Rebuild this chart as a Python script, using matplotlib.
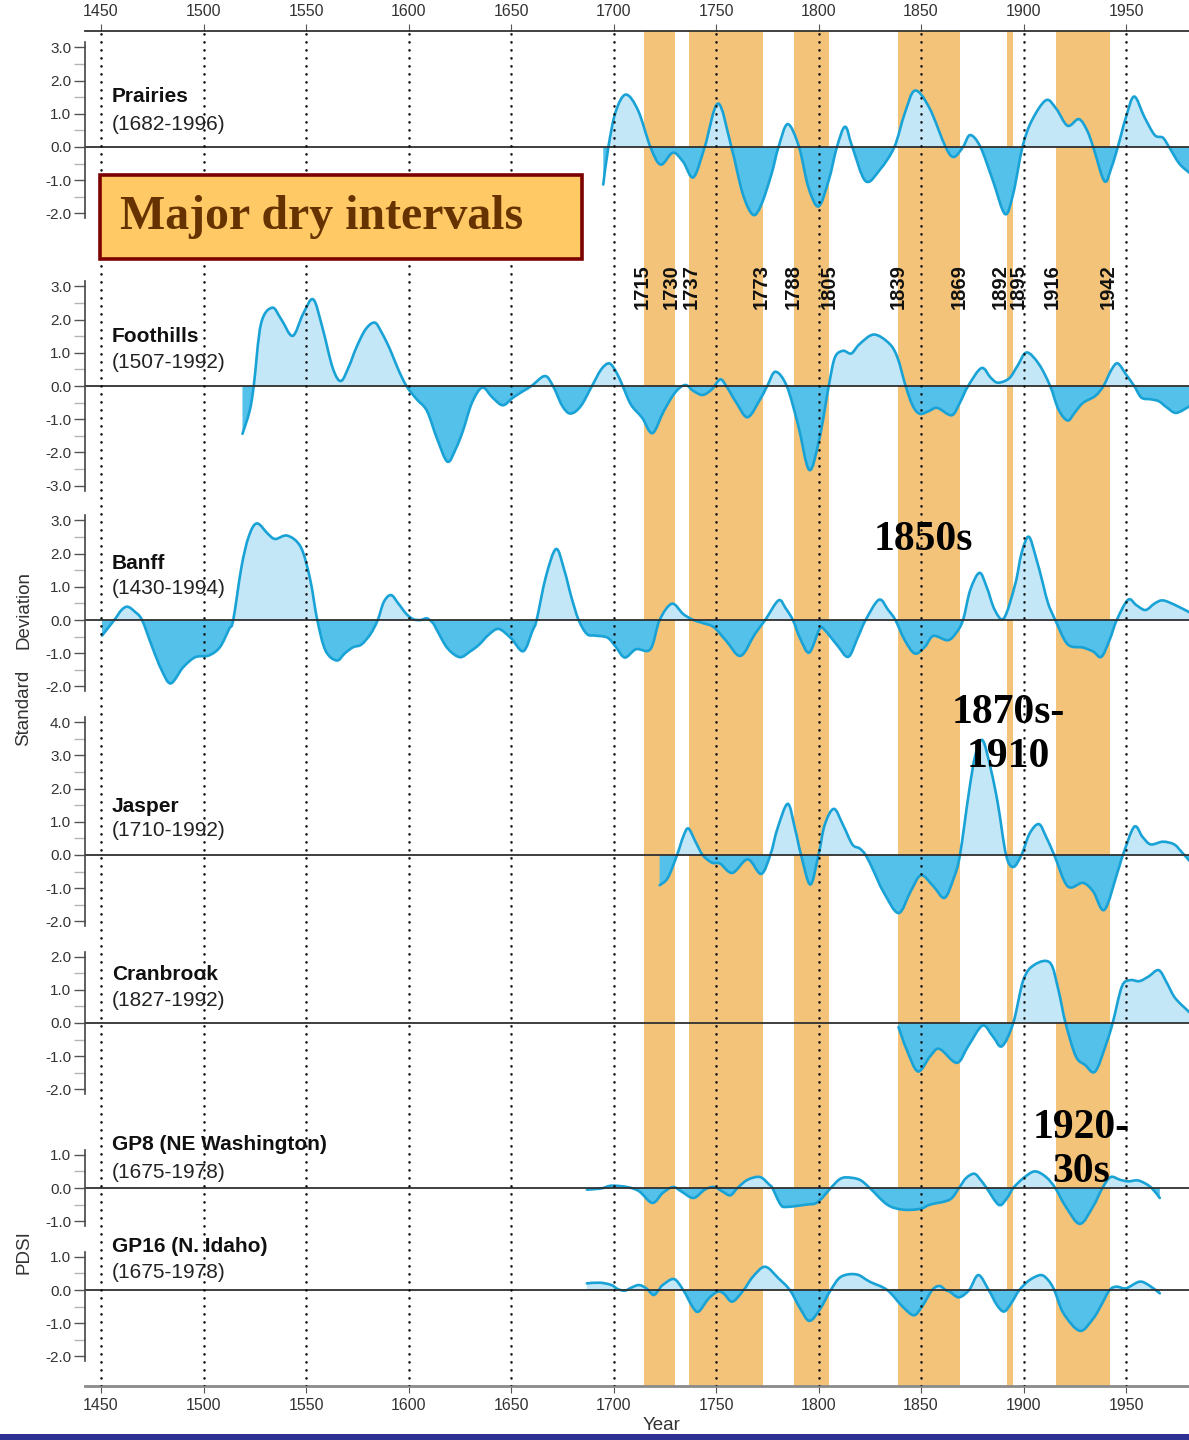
import matplotlib
matplotlib.use("Agg")
import matplotlib.pyplot as plt
import numpy as np
from matplotlib.patches import PathPatch, Rectangle
from matplotlib.path import Path
from matplotlib.ticker import FormatStrFormatter, MultipleLocator

W, H = 1189, 1440
SANS = ["Liberation Sans", "DejaVu Sans"]
SERIF = ["Liberation Serif", "DejaVu Serif"]
plt.rcParams["font.family"] = SANS

LINE = "#19a2d6"
POS = "#c4e7f7"
NEG = "#53c1ea"
ORANGE = "#f3c37a"

# dry intervals
DRY_START = [1715, 1737, 1788, 1839, 1892, 1916]
DRY_END = [1730, 1773, 1805, 1869, 1895, 1942]
EDGE_YEARS = [1715, 1730, 1737, 1773, 1788, 1805, 1839, 1869, 1892, 1895, 1916, 1942]
EDGE_NUDGE = {1715: -0.8, 1730: -1.8, 1737: 0.8, 1773: -1.1, 1788: -0.4,
              1869: -0.5, 1892: -3.2, 1895: 2.5, 1916: -2.1, 1942: -0.6}
GRID_YEARS = list(range(1450, 1951, 50))

prairies_yr = [1695, 1697.5, 1701, 1706, 1712, 1718, 1723, 1729, 1734, 1739, 1744.5,
               1751, 1757.5, 1763, 1768, 1772, 1777, 1780.5, 1785, 1790.5, 1795, 1800,
               1805, 1809, 1813, 1816.5, 1823, 1830, 1837, 1842, 1847, 1854, 1862, 1866,
               1870.5, 1874, 1879, 1885, 1891, 1895, 1899.5, 1904, 1911, 1916, 1921.5,
               1927, 1931, 1934, 1939.5, 1943, 1946, 1950, 1954, 1959, 1964, 1968, 1971,
               1976, 1981]
prairies_val = [-1.13, 0, 1.05, 1.58, 1.10, 0, -0.53, -0.17, -0.45, -0.91, 0,
                1.31, 0, -1.4, -2.04, -1.75, -0.83, 0, 0.69, 0, -1.2, -1.79,
                -1.0, 0, 0.61, 0, -1.03, -0.68, 0, 1.0, 1.70, 1.19, 0, -0.30,
                0, 0.36, 0, -1.0, -2.02, -1.4, 0, 0.79, 1.41, 1.15, 0.64,
                0.84, 0.5, 0, -1.03, -0.6, 0, 0.9, 1.52, 0.9, 0.36, 0.28, 0,
                -0.5, -0.78]

foothills_yr = [1519, 1522.5, 1524.5, 1528, 1533.5, 1538, 1543.5, 1548.5, 1553.5, 1558,
                1563, 1567, 1571, 1574.5, 1579, 1583.5, 1587, 1591, 1595, 1599, 1604,
                1609, 1614, 1619, 1623, 1626.5, 1631, 1636, 1641, 1646, 1651, 1656,
                1660, 1666.5, 1670.5, 1675, 1679, 1684, 1689.5, 1694, 1698, 1701.5,
                1704.5, 1708.5, 1714, 1719, 1724.5, 1730, 1735, 1739, 1743.5, 1748,
                1752, 1755, 1760, 1765.5, 1772, 1775, 1779, 1784.5, 1790, 1795.5,
                1800.5, 1805, 1808, 1812, 1816, 1820, 1827, 1834.5, 1838.5, 1842.5,
                1846, 1849.5, 1854, 1858, 1865, 1869, 1873, 1879.5, 1884, 1887.5,
                1893, 1897, 1901.5, 1907.5, 1913, 1917, 1921.5, 1925, 1929, 1935,
                1939, 1943, 1946, 1950, 1954, 1957.5, 1962, 1966, 1970, 1974.5, 1981]
foothills_val = [-1.44, -0.75, 0, 1.86, 2.36, 2.0, 1.51, 2.16, 2.61, 1.76,
                 0.55, 0.15, 0.6, 1.15, 1.7, 1.91, 1.6, 1.10, 0.5, 0, -0.4,
                 -0.75, -1.6, -2.28, -1.9, -1.36, -0.5, -0.05, -0.35, -0.58, -0.35, -0.15,
                 0, 0.30, 0, -0.6, -0.83, -0.61, 0, 0.5, 0.68, 0.4,
                 0, -0.56, -0.96, -1.42, -0.76, -0.20, 0.03, -0.15, -0.27, -0.1,
                 0.20, 0, -0.51, -0.94, -0.35, 0, 0.43, 0, -1.16, -2.53,
                 -1.57, 0, 0.86, 1.06, 0.98, 1.26, 1.55, 1.28, 0.86, 0,
                 -0.6, -0.84, -0.75, -0.66, -0.88, -0.5, 0, 0.54, 0.25, 0.10,
                 0.23, 0.6, 1.01, 0.66, 0, -0.7, -1.04, -0.8, -0.51, -0.30,
                 0, 0.5, 0.68, 0.35, 0, -0.35, -0.4, -0.46, -0.65, -0.81, -0.61]

banff_yr = [1450.5, 1456.5, 1460, 1463, 1466.5, 1470, 1475, 1479.5, 1484, 1490, 1496,
            1502.5, 1508, 1512.5, 1514.5, 1518.5, 1522, 1526, 1531.5, 1535, 1541,
            1547.5, 1552, 1555.5, 1559.5, 1565, 1569, 1573, 1577, 1581.5, 1585, 1588,
            1591.5, 1595, 1599, 1602.5, 1606, 1609, 1612, 1614, 1619, 1625, 1630,
            1634.5, 1639, 1644, 1650, 1656, 1660.5, 1662.5, 1667, 1672, 1676, 1679.5,
            1683, 1687, 1691, 1697, 1701, 1705.5, 1711, 1718, 1722.5, 1728.5, 1734,
            1739, 1744, 1749, 1755, 1762, 1769, 1774, 1780.5, 1784, 1787.5, 1791,
            1795.5, 1800.5, 1803, 1809, 1814.5, 1819, 1823, 1829.5, 1834, 1837.5,
            1842, 1847, 1852, 1856, 1863, 1867, 1870.5, 1874, 1878.5, 1882, 1886,
            1890.5, 1896, 1899, 1902.5, 1906, 1909.5, 1912, 1915.5, 1921.5, 1929,
            1934, 1938, 1942, 1945.5, 1951, 1955, 1959.5, 1964, 1968, 1974, 1981]
banff_val = [-0.47, 0, 0.3, 0.40, 0.25, 0, -0.82, -1.5, -1.91, -1.43, -1.12,
             -1.07, -0.82, -0.27, 0, 1.59, 2.5, 2.91, 2.59, 2.44, 2.54,
             2.19, 1.23, 0, -0.92, -1.22, -1.0, -0.82, -0.74, -0.42, 0, 0.55,
             0.75, 0.5, 0.18, 0.02, 0.0, 0.05, -0.1, -0.32, -0.85, -1.12, -0.95,
             -0.74, -0.45, -0.27, -0.55, -0.94, -0.32, 0, 1.3, 2.14, 1.5, 0.68,
             0, -0.42, -0.47, -0.53, -0.8, -1.13, -0.88, -0.88, 0, 0.49, 0.18,
             0, -0.1, -0.22, -0.63, -1.08, -0.42, 0, 0.59, 0.35, 0, -0.55,
             -0.98, -0.27, -0.30, -0.75, -1.11, -0.55, 0, 0.61, 0.3, 0,
             -0.6, -1.01, -0.8, -0.48, -0.61, -0.40, 0, 0.9, 1.42, 1.0, 0.3,
             0.06, 1.09, 2.0, 2.51, 1.9, 1.09, 0.5, 0, -0.73, -0.83,
             -0.95, -1.11, -0.6, 0, 0.61, 0.45, 0.30, 0.5, 0.59, 0.45, 0.23]

jasper_yr = [1722.5, 1726.5, 1731, 1734, 1736.5, 1740, 1743.5, 1748, 1752, 1758, 1765.5,
             1772, 1776.5, 1780, 1785, 1788.5, 1791.5, 1796, 1800, 1803, 1807.5, 1812,
             1816.5, 1820, 1823, 1827, 1831.5, 1839, 1845, 1850, 1856, 1861.5, 1866,
             1869, 1873.5, 1876.5, 1880, 1884, 1887.5, 1891.5, 1895, 1899, 1903,
             1907.5, 1911, 1915, 1921.5, 1929, 1934, 1939.5, 1946, 1948.5, 1954, 1958,
             1962, 1968, 1973.5, 1977, 1981]
jasper_val = [-0.91, -0.69, 0, 0.55, 0.80, 0.4, 0, -0.23, -0.26, -0.54, -0.13,
              -0.57, 0, 0.8, 1.54, 0.8, 0, -0.89, 0, 0.9, 1.39, 0.9,
              0.32, 0.20, 0, -0.5, -1.09, -1.75, -1.09, -0.61, -0.94, -1.29, -0.69,
              0, 1.94, 3.0, 3.46, 2.6, 1.54, 0, -0.36, 0, 0.65,
              0.93, 0.55, 0, -0.94, -0.84, -1.1, -1.65, -0.49, 0, 0.85, 0.55,
              0.32, 0.40, 0.32, 0.1, -0.18]

cranbrook_yr = [1839, 1843, 1848.5, 1854.5, 1859, 1867.5, 1873, 1880, 1885, 1889.5, 1895,
                1900, 1905.5, 1913, 1917, 1920.5, 1925.5, 1930, 1935, 1940.5, 1943.5,
                1948, 1952, 1956.5, 1961, 1966, 1970, 1974, 1981]
cranbrook_val = [-0.12, -0.80, -1.46, -1.00, -0.78, -1.20, -0.70, -0.08, -0.4, -0.70, 0,
                 1.31, 1.76, 1.81, 1.00, 0, -1.00, -1.26, -1.46, -0.60, 0,
                 1.10, 1.29, 1.26, 1.4, 1.59, 1.2, 0.75, 0.32]

gp8_yr = [1687, 1691.5, 1695, 1699, 1706.5, 1712.5, 1719, 1724, 1729, 1733, 1739,
          1744.5, 1749, 1753, 1757, 1760.5, 1765.5, 1771.5, 1776, 1777.5, 1781.5,
          1784.5, 1794, 1799.5, 1806, 1810, 1813.5, 1820, 1825, 1833.5, 1841,
          1849.5, 1854.5, 1864, 1868.5, 1872, 1876, 1879, 1882, 1888, 1892, 1895,
          1900, 1905.5, 1911, 1915.5, 1920.5, 1927.5, 1934, 1938.5, 1942.5, 1947,
          1951, 1955.5, 1959, 1962.5, 1966.5]
gp8_val = [-0.05, -0.03, 0.0, 0.07, 0.03, -0.10, -0.45, -0.15, 0.03, -0.10, -0.30,
           -0.05, 0.03, -0.1, -0.22, 0, 0.25, 0.33, 0.10, 0, -0.50,
           -0.57, -0.50, -0.43, 0, 0.25, 0.32, 0.25, 0, -0.50, -0.65,
           -0.63, -0.50, -0.35, 0, 0.3, 0.43, 0.25, 0, -0.51, -0.3, 0,
           0.30, 0.50, 0.33, 0, -0.55, -1.08, -0.55, 0, 0.33, 0.25,
           0.20, 0.23, 0.15, 0.0, -0.30]

gp16_yr = [1687, 1693.5, 1699, 1702, 1705.5, 1709, 1712.5, 1716, 1719.5, 1722, 1724,
           1729.5, 1734, 1738.5, 1741.5, 1746.5, 1751, 1754, 1758, 1763.5, 1768,
           1774, 1780.5, 1786, 1791, 1795.5, 1800.5, 1806, 1811, 1818.5, 1825,
           1833.5, 1841, 1846.5, 1850.5, 1855.5, 1859, 1862, 1864, 1868.5, 1873.5,
           1878, 1883, 1887, 1890.5, 1894, 1898, 1903, 1908.5, 1912, 1915, 1919.5,
           1927.5, 1934, 1938, 1942, 1945.5, 1950, 1956.5, 1961, 1966.5]
gp16_val = [0.20, 0.22, 0.15, 0.03, -0.02, 0.08, 0.15, 0.05, -0.15, 0.0, 0.15,
            0.33, 0, -0.50, -0.65, -0.25, -0.05, -0.12, -0.35, 0, 0.4,
            0.70, 0.35, 0, -0.55, -0.93, -0.60, 0, 0.40, 0.47, 0.25,
            0, -0.50, -0.76, -0.50, 0, 0.12, 0.0, -0.05, -0.22, 0,
            0.45, 0, -0.45, -0.65, -0.4, 0, 0.3, 0.45, 0.3, 0, -0.70,
            -1.23, -0.86, -0.45, 0, 0.10, 0.05, 0.25, 0.15, -0.10]

# name, span, years, values, zero line (px), tick range, label rows (px)
panels = [
    ("Prairies", "(1682-1996)", prairies_yr, prairies_val, 147, (-2, 3), (97, 124)),
    ("Foothills", "(1507-1992)", foothills_yr, foothills_val, 386, (-3, 3), (337, 363)),
    ("Banff", "(1430-1994)", banff_yr, banff_val, 620, (-2, 3), (563, 589)),
    ("Jasper", "(1710-1992)", jasper_yr, jasper_val, 855, (-2, 4), (806, 831)),
    ("Cranbrook", "(1827-1992)", cranbrook_yr, cranbrook_val, 1023, (-2, 2), (975, 1001)),
    ("GP8 (NE Washington)", "(1675-1978)", gp8_yr, gp8_val, 1188, (-1, 1), (1145, 1172)),
    ("GP16 (N. Idaho)", "(1675-1978)", gp16_yr, gp16_val, 1290, (-2, 1), (1247, 1273)),
]

X_LEFT, X_RIGHT = 85, 1189
XMIN = 1450 - (101 - X_LEFT) / 2.05
XMAX = 1450 + (X_RIGHT - 101) / 2.05
TOP, BOTTOM = 31, 1386
PXU = 33.2


def fy(py):
    return 1 - py / H


def curve_vertices(x, y):
    """Smooth cubic path through the read points (Catmull-Rom handles)."""
    p = np.column_stack([x, y])
    n = len(p)
    verts = [p[0]]
    codes = [Path.MOVETO]
    for i in range(n - 1):
        p0 = p[i - 1] if i > 0 else p[i]
        p1, p2 = p[i], p[i + 1]
        p3 = p[i + 2] if i + 2 < n else p[i + 1]
        verts += [p1 + (p2 - p0) / 6.0, p2 - (p3 - p1) / 6.0, p2]
        codes += [Path.CURVE4] * 3
    return verts, codes


fig = plt.figure(figsize=(W / 100, H / 100), dpi=100, facecolor="white")
ax_left = X_LEFT / W
ax_w = (X_RIGHT - X_LEFT) / W

# background: bands + year axes
ax_bg = fig.add_axes([ax_left, fy(BOTTOM), ax_w, (BOTTOM - TOP) / H], zorder=0)
ax_bg.set_xlim(XMIN, XMAX)
ax_bg.set_ylim(0, 1)
for s, e in zip(DRY_START, DRY_END):
    ax_bg.axvspan(s, e, color=ORANGE, lw=0)
for side in ("left", "right"):
    ax_bg.spines[side].set_visible(False)
ax_bg.spines["top"].set_color("#333333")
ax_bg.spines["top"].set_linewidth(1.3)
ax_bg.spines["bottom"].set_color("#8a8a8a")
ax_bg.spines["bottom"].set_linewidth(2.0)
ax_bg.set_yticks([])
ax_bg.set_xticks(GRID_YEARS)
ax_bg.set_xticklabels([str(y) for y in GRID_YEARS])
ax_bg.tick_params(axis="x", which="both", top=True, labeltop=True, bottom=True,
                  labelbottom=True, labelsize=11.5, labelcolor="#333333",
                  color="#555555", length=5, pad=4)

# panels
m = 0.15
for name, span, yrs, vals, zero, (lo, hi), (ny, sy) in panels:
    top_px = zero - (hi + m) * PXU
    bot_px = zero - (lo - m) * PXU
    ax = fig.add_axes([ax_left, fy(bot_px), ax_w, (bot_px - top_px) / H], zorder=1)
    ax.patch.set_alpha(0)
    ax.set_xlim(XMIN, XMAX)
    ax.set_ylim(lo - m, hi + m)

    verts, codes = curve_vertices(np.array(yrs, float), np.array(vals, float))
    fill_path = Path(verts + [(yrs[-1], 0), (yrs[0], 0), (yrs[0], 0)],
                     codes + [Path.LINETO, Path.LINETO, Path.CLOSEPOLY])
    for color, y0, y1 in ((POS, 0, 10), (NEG, -10, 0)):
        patch = PathPatch(fill_path, facecolor=color, lw=0)
        ax.add_patch(patch)
        clip = Rectangle((XMIN, y0), XMAX - XMIN, y1 - y0, transform=ax.transData)
        patch.set_clip_path(clip)
    ax.add_patch(PathPatch(Path(verts, codes), facecolor="none", edgecolor=LINE,
                           lw=1.9, joinstyle="round", capstyle="round"))
    ax.axhline(0, color="#2f2f2f", lw=1.3)

    for side in ("top", "right", "bottom"):
        ax.spines[side].set_visible(False)
    ax.spines["left"].set_color("#444444")
    ax.spines["left"].set_linewidth(1.2)
    ax.set_xticks([])
    ax.yaxis.set_minor_locator(MultipleLocator(0.5))
    ax.yaxis.set_major_formatter(FormatStrFormatter("%.1f"))
    ax.set_yticks(np.arange(lo, hi + 0.01, 1.0))
    ax.tick_params(axis="y", which="major", length=8, width=1.0, color="#555555",
                   labelsize=11, labelcolor="#333333", pad=2)
    ax.tick_params(axis="y", which="minor", length=8, width=1.0, color="#b5b5b5")
    fig.text(112 / W, fy(ny), name, fontsize=15, fontweight="bold",
             va="center", ha="left", color="#111111", zorder=6)
    fig.text(112 / W, fy(sy), span, fontsize=15, va="center", ha="left",
             color="#222222", zorder=6)

# dotted half-century lines on top
ax_ov = fig.add_axes([ax_left, fy(BOTTOM), ax_w, (BOTTOM - TOP) / H], zorder=3)
ax_ov.set_xlim(XMIN, XMAX)
ax_ov.set_ylim(BOTTOM, TOP)
ax_ov.axis("off")
for yr in GRID_YEARS:
    ax_ov.axvline(yr, color="#111111", lw=1.8, linestyle=(0, (0.1, 3.1)),
                  dash_capstyle="round")

# year labels at the dry-interval edges
for yr in EDGE_YEARS:
    ax_ov.text(yr + EDGE_NUDGE.get(yr, 0), 264, str(yr), rotation=90,
               fontsize=14.5, fontweight="bold", ha="center", va="top",
               color="#111111")

# "Major dry intervals" box
fig.patches.append(Rectangle((100 / W, fy(259)), (582 - 100) / W, (259 - 175) / H,
                             transform=fig.transFigure, facecolor="#ffc966",
                             edgecolor="#7d0000", lw=2.6, zorder=5))
fig.text(120 / W, fy(217), "Major dry intervals", family=SERIF, fontweight="bold",
         fontsize=34.5, color="#663300", ha="left", va="center", zorder=6)

# big annotations
big = dict(family=SERIF, fontweight="bold", fontsize=30, color="black",
           ha="center", va="center", multialignment="center", zorder=6,
           linespacing=1.2)
fig.text(923 / W, fy(540), "1850s", **big)
fig.text(1008 / W, fy(735), "1870s-\n1910", **big)
fig.text(1081 / W, fy(1150), "1920-\n30s", **big)

# axis titles
for label, py in (("Standard", 708), ("Deviation", 610), ("PDSI", 1252)):
    fig.text(24 / W, fy(py), label, rotation=90, fontsize=13.5, ha="center",
             va="center", color="#333333")
fig.text(662 / W, fy(1425), "Year", fontsize=13.5, ha="center", va="center",
         color="#333333")

# slide border at the bottom
fig.patches.append(Rectangle((0, 0), 1, 6 / H, transform=fig.transFigure,
                             facecolor="#2e3192", lw=0, zorder=10))

fig.savefig("out.png", dpi=100)
